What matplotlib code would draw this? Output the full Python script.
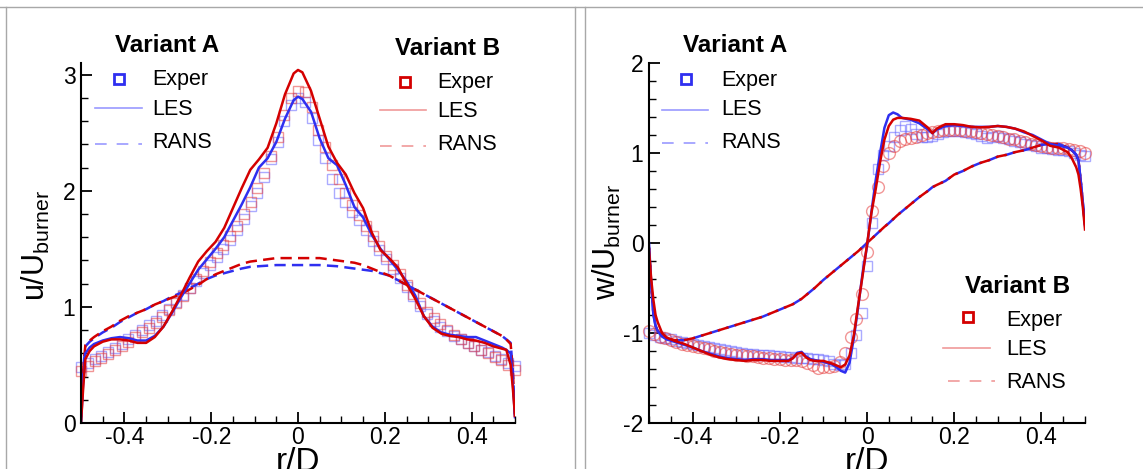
import numpy as np
import matplotlib
matplotlib.use("Agg")
import matplotlib.pyplot as plt
from matplotlib.lines import Line2D
from matplotlib.ticker import MultipleLocator

W, H = 1143, 469

plt.rcParams['font.family'] = ['Liberation Sans', 'DejaVu Sans']
plt.rcParams['mathtext.fontset'] = 'custom'
plt.rcParams['mathtext.rm'] = 'Liberation Sans'
plt.rcParams['mathtext.it'] = 'Liberation Sans:italic'
plt.rcParams['axes.unicode_minus'] = False

BLUE = '#2f2ff0'
RED = '#d40000'
BLUE_EXP = (0.40, 0.40, 1.0, 0.55)
RED_EXP = (0.90, 0.25, 0.25, 0.55)

# ---------------- left panel: u/U_burner ----------------
r_les_u = [-0.5, -0.495, -0.49, -0.48, -0.47, -0.45, -0.43, -0.41, -0.39, -0.37,
           -0.35, -0.33, -0.31, -0.29, -0.27, -0.25, -0.23, -0.21, -0.19, -0.17,
           -0.15, -0.13, -0.11, -0.09, -0.07, -0.05, -0.03, -0.01, 0.0, 0.01,
           0.03, 0.05, 0.07, 0.09, 0.11, 0.13, 0.15, 0.17, 0.19, 0.21,
           0.23, 0.25, 0.27, 0.29, 0.31, 0.33, 0.35, 0.37, 0.39, 0.41,
           0.43, 0.45, 0.47, 0.48, 0.49, 0.495, 0.5]

les_u_a = [0.0, 0.35, 0.60, 0.65, 0.68, 0.71, 0.73, 0.74, 0.73, 0.71,
           0.71, 0.75, 0.83, 0.95, 1.08, 1.20, 1.32, 1.41, 1.50, 1.60,
           1.74, 1.88, 2.03, 2.20, 2.28, 2.42, 2.62, 2.78, 2.81, 2.79,
           2.68, 2.45, 2.28, 2.22, 2.05, 1.86, 1.77, 1.62, 1.50, 1.41,
           1.32, 1.22, 1.10, 0.92, 0.83, 0.78, 0.76, 0.75, 0.74, 0.74,
           0.71, 0.68, 0.65, 0.63, 0.60, 0.35, 0.05]

les_u_b = [0.0, 0.30, 0.55, 0.62, 0.66, 0.70, 0.72, 0.72, 0.71, 0.69,
           0.69, 0.74, 0.83, 0.96, 1.10, 1.25, 1.39, 1.48, 1.56, 1.68,
           1.85, 2.02, 2.18, 2.27, 2.37, 2.58, 2.83, 3.01, 3.04, 3.02,
           2.86, 2.62, 2.38, 2.24, 2.14, 1.98, 1.85, 1.64, 1.49, 1.42,
           1.34, 1.20, 1.07, 0.92, 0.82, 0.77, 0.75, 0.74, 0.72, 0.71,
           0.69, 0.66, 0.64, 0.63, 0.50, 0.30, 0.06]

rans_u_a = [0.05, 0.45, 0.66, 0.70, 0.73, 0.78, 0.82, 0.87, 0.91, 0.95,
            0.98, 1.02, 1.05, 1.09, 1.12, 1.16, 1.20, 1.24, 1.27, 1.29,
            1.31, 1.33, 1.345, 1.35, 1.355, 1.36, 1.36, 1.36, 1.36, 1.36,
            1.36, 1.36, 1.355, 1.35, 1.34, 1.33, 1.32, 1.31, 1.29, 1.27,
            1.23, 1.19, 1.15, 1.11, 1.07, 1.03, 0.99, 0.95, 0.91, 0.87,
            0.83, 0.79, 0.75, 0.72, 0.69, 0.45, 0.05]

rans_u_b = [0.05, 0.45, 0.67, 0.71, 0.74, 0.79, 0.83, 0.88, 0.92, 0.95,
            0.98, 1.02, 1.05, 1.08, 1.11, 1.15, 1.19, 1.24, 1.28, 1.31,
            1.34, 1.37, 1.39, 1.40, 1.41, 1.42, 1.42, 1.42, 1.42, 1.42,
            1.42, 1.42, 1.41, 1.40, 1.39, 1.38, 1.36, 1.33, 1.30, 1.27,
            1.23, 1.19, 1.15, 1.11, 1.07, 1.03, 0.99, 0.95, 0.91, 0.87,
            0.83, 0.79, 0.75, 0.72, 0.68, 0.45, 0.05]

r_exp_u = np.linspace(-0.5, 0.5, 65)

exp_u_a = [0.48, 0.52, 0.55, 0.58, 0.61, 0.65, 0.68, 0.72, 0.76, 0.80,
           0.84, 0.88, 0.93, 0.98, 1.04, 1.10, 1.16, 1.22, 1.29, 1.36,
           1.43, 1.50, 1.58, 1.66, 1.76, 1.87, 1.98, 2.12, 2.27, 2.42,
           2.60, 2.74, 2.80, 2.76, 2.63, 2.44, 2.28, 2.10, 1.98, 1.90,
           1.82, 1.75, 1.66, 1.57, 1.49, 1.41, 1.33, 1.25, 1.17, 1.09,
           1.01, 0.94, 0.88, 0.83, 0.79, 0.75, 0.72, 0.69, 0.66, 0.63,
           0.61, 0.58, 0.55, 0.52, 0.49]

exp_u_b = [0.45, 0.49, 0.53, 0.56, 0.59, 0.63, 0.66, 0.70, 0.74, 0.78,
           0.82, 0.86, 0.91, 0.97, 1.03, 1.09, 1.16, 1.24, 1.31, 1.39,
           1.46, 1.53, 1.61, 1.70, 1.80, 1.90, 2.02, 2.15, 2.30, 2.46,
           2.65, 2.80, 2.86, 2.85, 2.72, 2.52, 2.38, 2.22, 2.10, 1.98,
           1.88, 1.79, 1.70, 1.61, 1.52, 1.44, 1.36, 1.28, 1.19, 1.11,
           1.03, 0.96, 0.90, 0.85, 0.80, 0.76, 0.72, 0.69, 0.66, 0.63,
           0.60, 0.57, 0.54, 0.50, 0.46]

# ---------------- right panel: w/U_burner ----------------
r_les_w = [-0.5, -0.495, -0.49, -0.485, -0.48, -0.47, -0.46, -0.44, -0.42, -0.40,
           -0.38, -0.36, -0.34, -0.32, -0.30, -0.28, -0.26, -0.24, -0.22, -0.20,
           -0.18, -0.17, -0.16, -0.15, -0.14, -0.13, -0.12, -0.10, -0.08, -0.07,
           -0.06, -0.05, -0.04, -0.03, -0.02, -0.01, 0.0, 0.01, 0.02, 0.03,
           0.04, 0.05, 0.06, 0.07, 0.08, 0.10, 0.12, 0.14, 0.15, 0.16,
           0.18, 0.20, 0.22, 0.24, 0.26, 0.28, 0.30, 0.32, 0.34, 0.36,
           0.38, 0.40, 0.42, 0.44, 0.46, 0.47, 0.48, 0.485, 0.49, 0.495,
           0.5]

les_w_a = [0.0, -0.45, -0.80, -0.92, -0.98, -1.04, -1.07, -1.10, -1.13, -1.16,
           -1.20, -1.23, -1.26, -1.28, -1.29, -1.30, -1.29, -1.29, -1.30, -1.30,
           -1.30, -1.28, -1.22, -1.21, -1.26, -1.29, -1.30, -1.32, -1.35, -1.38,
           -1.42, -1.44, -1.33, -1.05, -0.70, -0.33, -0.04, 0.34, 0.70, 1.00,
           1.28, 1.42, 1.45, 1.43, 1.39, 1.37, 1.33, 1.26, 1.22, 1.26,
           1.30, 1.31, 1.30, 1.29, 1.29, 1.29, 1.30, 1.29, 1.27, 1.23,
           1.20, 1.15, 1.10, 1.08, 1.06, 1.03, 0.98, 0.92, 0.70, 0.45,
           0.20]

les_w_b = [-0.07, -0.40, -0.63, -0.80, -0.88, -1.00, -1.05, -1.09, -1.12, -1.16,
           -1.20, -1.24, -1.27, -1.29, -1.30, -1.31, -1.30, -1.30, -1.31, -1.31,
           -1.31, -1.28, -1.23, -1.22, -1.27, -1.30, -1.31, -1.31, -1.34, -1.36,
           -1.38, -1.35, -1.25, -1.02, -0.68, -0.36, -0.02, 0.33, 0.60, 0.90,
           1.15, 1.30, 1.37, 1.39, 1.39, 1.38, 1.36, 1.28, 1.22, 1.27,
           1.32, 1.32, 1.31, 1.29, 1.285, 1.29, 1.30, 1.29, 1.27, 1.24,
           1.19, 1.14, 1.08, 1.06, 1.01, 0.94, 0.84, 0.76, 0.60, 0.40,
           0.15]

# RANS: both variants practically coincide
rans_w_a = [-0.05, -0.45, -0.78, -0.92, -0.98, -1.03, -1.06, -1.08, -1.08, -1.06,
            -1.03, -1.00, -0.97, -0.94, -0.91, -0.88, -0.85, -0.82, -0.78, -0.74,
            -0.70, -0.68, -0.65, -0.62, -0.58, -0.54, -0.50, -0.41, -0.33, -0.29,
            -0.25, -0.21, -0.17, -0.13, -0.09, -0.045, 0.0, 0.045, 0.09, 0.135,
            0.18, 0.22, 0.265, 0.31, 0.35, 0.43, 0.51, 0.58, 0.62, 0.645,
            0.69, 0.76, 0.80, 0.85, 0.89, 0.92, 0.96, 0.98, 1.01, 1.03,
            1.06, 1.09, 1.10, 1.10, 1.06, 1.03, 0.98, 0.92, 0.70, 0.45,
            0.20]
rans_w_b = list(rans_w_a)

r_exp_w = np.linspace(-0.5, 0.5, 81)

exp_w_a = [-1.00, -1.02, -1.04, -1.06, -1.07, -1.09, -1.10, -1.11, -1.12, -1.13,
           -1.15, -1.16, -1.17, -1.18, -1.19, -1.20, -1.21, -1.22, -1.23, -1.23,
           -1.24, -1.25, -1.25, -1.26, -1.26, -1.27, -1.27, -1.28, -1.28, -1.28,
           -1.29, -1.29, -1.30, -1.31, -1.34, -1.36, -1.34, -1.22, -1.02, -0.78,
           -0.26, 0.22, 0.82, 0.98, 1.08, 1.18, 1.26, 1.30, 1.27, 1.21,
           1.18, 1.18, 1.19, 1.21, 1.23, 1.24, 1.24, 1.24, 1.23, 1.22,
           1.21, 1.19, 1.17, 1.18, 1.19, 1.17, 1.15, 1.13, 1.12, 1.10,
           1.09, 1.08, 1.06, 1.05, 1.04, 1.03, 1.03, 1.02, 1.00, 0.98,
           0.97]

exp_w_b = [-0.98, -1.01, -1.04, -1.06, -1.08, -1.10, -1.12, -1.13, -1.15, -1.16,
           -1.17, -1.18, -1.20, -1.21, -1.22, -1.23, -1.24, -1.25, -1.26, -1.26,
           -1.27, -1.28, -1.28, -1.29, -1.29, -1.30, -1.30, -1.30, -1.31, -1.33,
           -1.36, -1.39, -1.38, -1.38, -1.37, -1.32, -1.22, -1.05, -0.85, -0.57,
           -0.10, 0.35, 0.62, 0.85, 1.00, 1.08, 1.13, 1.16, 1.17, 1.18,
           1.20, 1.22, 1.23, 1.24, 1.25, 1.25, 1.25, 1.25, 1.24, 1.24,
           1.23, 1.22, 1.21, 1.20, 1.19, 1.18, 1.16, 1.15, 1.13, 1.12,
           1.10, 1.09, 1.08, 1.07, 1.06, 1.05, 1.05, 1.04, 1.03, 1.02,
           1.00]

fig = plt.figure(figsize=(W / 100, H / 100), dpi=100)
ax1 = fig.add_axes([81 / W, 1 - 423 / H, 434 / W, 360 / H])
ax2 = fig.add_axes([649 / W, 1 - 423 / H, 436 / W, 360 / H])


def style(ax, ylim, yticks):
    ax.set_xlim(-0.5, 0.5)
    ax.set_ylim(*ylim)
    for s in ['top', 'right']:
        ax.spines[s].set_visible(False)
    for s in ['left', 'bottom']:
        ax.spines[s].set_linewidth(1.5)
    xt = [-0.4, -0.2, 0, 0.2, 0.4]
    ax.set_xticks(xt)
    ax.set_xticklabels(['-0.4', '-0.2', '0', '0.2', '0.4'])
    ax.set_yticks(yticks)
    ax.set_yticklabels([str(t) for t in yticks])
    ax.xaxis.set_minor_locator(MultipleLocator(0.05))
    ax.yaxis.set_minor_locator(MultipleLocator(0.2))
    ax.tick_params(which='major', direction='in', length=8, width=1.3, labelsize=16.5)
    ax.tick_params(which='minor', direction='in', length=5, width=1.0)
    ax.tick_params(axis='x', pad=2)
    ax.tick_params(axis='y', pad=4)


style(ax1, (0, 3.1), [0, 1, 2, 3])
style(ax2, (-2, 2), [-2, -1, 0, 1, 2])

mk = dict(ls='none', mfc='none', mew=1.0, clip_on=False)

# left panel
ax1.plot(r_exp_u, exp_u_a, marker='s', ms=7.8, mec=BLUE_EXP, **mk)
ax1.plot(r_exp_u, exp_u_b, marker='s', ms=7.8, mec=RED_EXP, **mk)
ax1.plot(r_les_u, rans_u_a, color=BLUE, lw=1.8, dashes=(4.5, 2.5))
ax1.plot(r_les_u, rans_u_b, color=RED, lw=1.8, linestyle=(3.5, (4.5, 2.5)))
ax1.plot(r_les_u, les_u_a, color=BLUE, lw=1.8)
ax1.plot(r_les_u, les_u_b, color=RED, lw=1.8)

# right panel
ax2.plot(r_exp_w, exp_w_a, marker='s', ms=7.8, mec=BLUE_EXP, **mk)
ax2.plot(r_exp_w, exp_w_b, marker='o', ms=8.5, mec=RED_EXP, **mk)
ax2.plot(r_les_w, rans_w_a, color=BLUE, lw=1.8, dashes=(4.5, 2.5))
ax2.plot(r_les_w, rans_w_b, color=RED, lw=1.8, linestyle=(3.5, (4.5, 2.5)))
ax2.plot(r_les_w, les_w_a, color=BLUE, lw=1.8)
ax2.plot(r_les_w, les_w_b, color=RED, lw=1.8)


# ---------------- legend keys (figure pixel positions) ----------------
def fx(x):
    return x / W


def fy(y):
    return 1 - y / H


def legend_block(title, tx, ty, color, light, sq, les, rans, text_x, rows):
    fig.text(fx(tx), fy(ty), title, fontsize=17.5, fontweight='bold',
             ha='left', va='baseline')
    fig.add_artist(Line2D([fx(sq[0])], [fy(sq[1])], transform=fig.transFigure,
                          marker='s', ms=7, mfc='none', mec=color, mew=2, ls='none'))
    fig.add_artist(Line2D([fx(les[0]), fx(les[1])], [fy(les[2])] * 2,
                          transform=fig.transFigure, color=light, lw=1.2))
    fig.add_artist(Line2D([fx(rans[0]), fx(rans[1])], [fy(rans[2])] * 2,
                          transform=fig.transFigure, color=light, lw=1.2,
                          dashes=(7, 6)))
    for s, y in zip(['Exper', 'LES', 'RANS'], rows):
        fig.text(fx(text_x), fy(y), s, fontsize=15.5, ha='left', va='baseline')


LIGHT_BLUE = '#9a9aff'
LIGHT_RED = '#f09a9a'

legend_block('Variant A', 115, 52, BLUE, LIGHT_BLUE, (119, 79), (95, 142, 108),
             (95, 142, 144), 152, (85, 115, 148))
legend_block('Variant B', 395, 55, RED, LIGHT_RED, (405, 82), (380, 426, 110),
             (380, 426, 146), 437, (88, 117, 150))
legend_block('Variant A', 683, 52, BLUE, LIGHT_BLUE, (686, 79), (662, 708, 110),
             (662, 708, 143), 721, (86, 115, 148))
legend_block('Variant B', 965, 293, RED, LIGHT_RED, (968, 317), (943, 990, 348),
             (948, 995, 381), 1006, (326, 355, 388))

# axis titles
fig.text(fx(36), fy(245), r'$\mathrm{u/U_{burner}}$', rotation=90,
         ha='center', va='center', fontsize=22)
fig.text(fx(607), fy(242), r'$\mathrm{w/U_{burner}}$', rotation=90,
         ha='center', va='center', fontsize=22)
# the reference crops the x titles at the bottom edge
fig.text(fx(298), fy(471), 'r/D', ha='center', va='baseline', fontsize=24)
fig.text(fx(867), fy(471), 'r/D', ha='center', va='baseline', fontsize=24)

# panel frames
GRAY = '#a8a8a8'
fig.add_artist(Line2D([0, 1], [fy(7.5)] * 2, transform=fig.transFigure, color=GRAY, lw=1))
for x in (5.5, 574.5, 584.5):
    fig.add_artist(Line2D([fx(x)] * 2, [fy(7.5), 0], transform=fig.transFigure,
                          color=GRAY, lw=1))

fig.savefig('out.png', dpi=100)
